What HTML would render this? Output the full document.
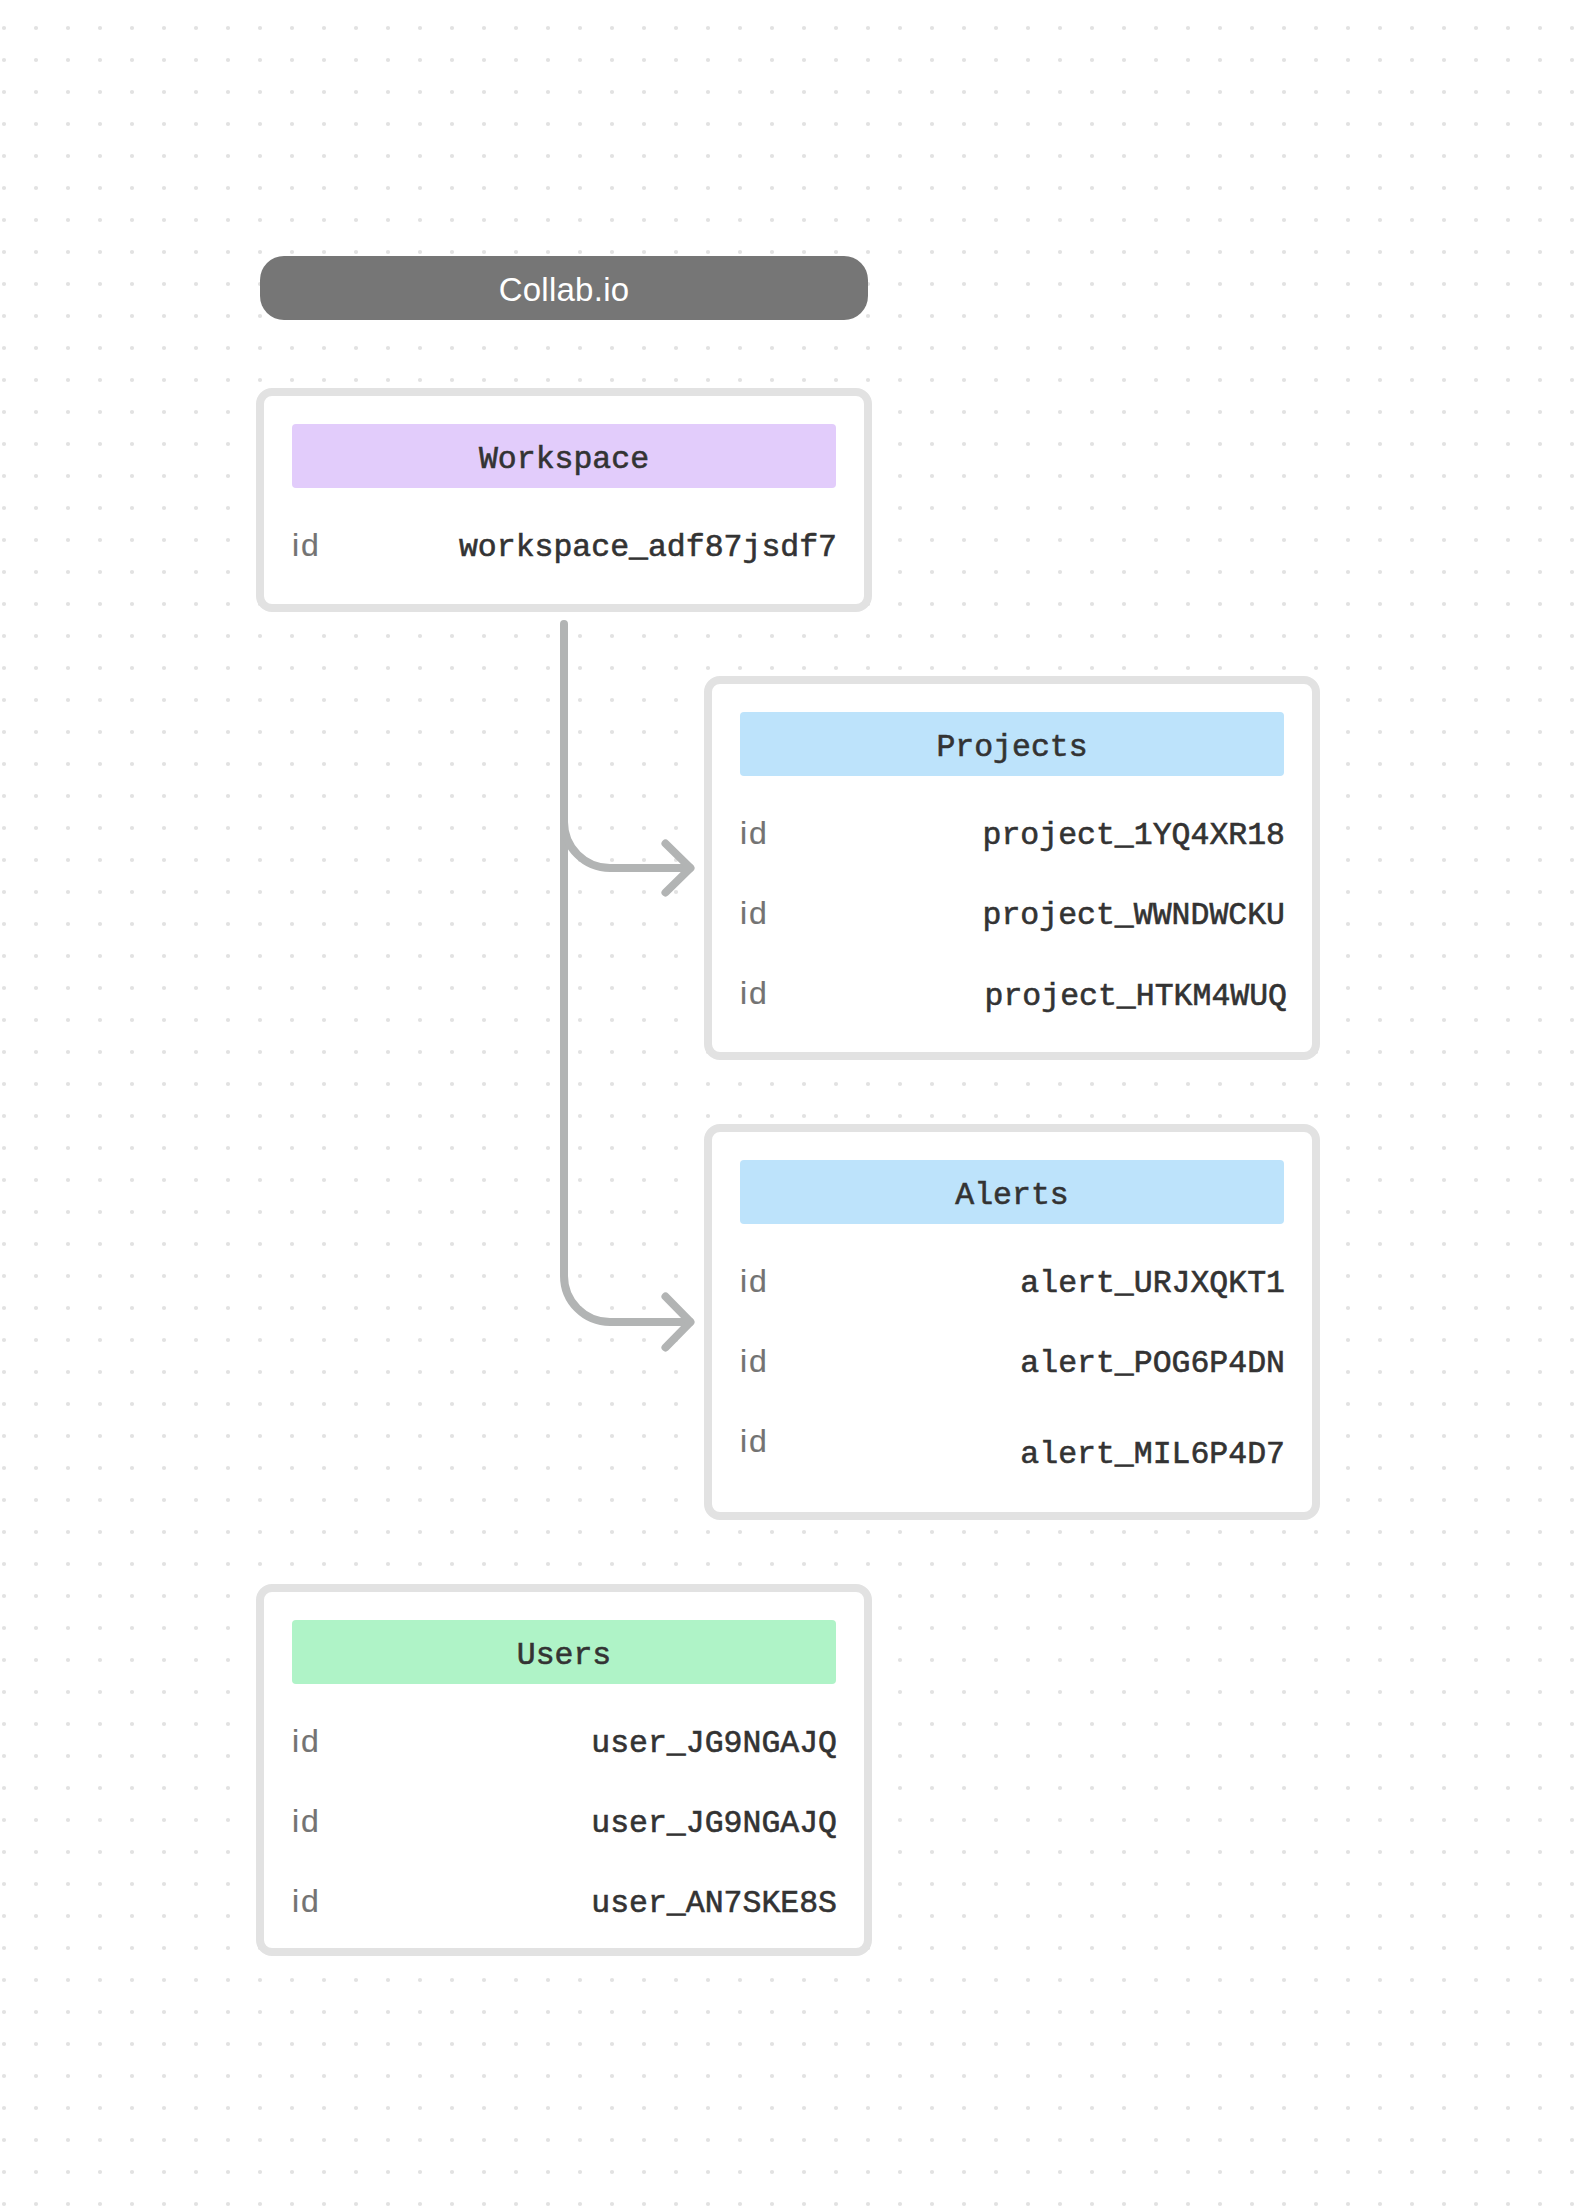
<!DOCTYPE html>
<html>
<head>
<meta charset="utf-8">
<style>
html,body{margin:0;padding:0;}
body{width:1576px;height:2212px;position:relative;overflow:hidden;background:#ffffff;font-family:"Liberation Sans",sans-serif;}
#dots{position:absolute;left:0;top:0;width:1576px;height:2212px;}
.pill{position:absolute;left:260px;top:256px;width:608px;height:64px;border-radius:24px;background:#767676;}
.pill span{position:absolute;left:0;right:0;top:0;text-align:center;color:#fff;font-size:33px;line-height:40px;top:14px;letter-spacing:0.25px;}
.card{position:absolute;box-sizing:border-box;border:8px solid #e2e2e2;border-radius:16px;background:#fff;width:616px;}
.hdr{position:absolute;left:28px;top:28px;width:544px;height:64px;border-radius:4px;}
.hdr span{position:absolute;left:0;right:0;text-align:center;color:#333;font-family:"Liberation Mono",monospace;font-size:31.5px;line-height:40px;top:16px;-webkit-text-stroke:0.6px #333;}
.lbl{position:absolute;left:28px;color:#737373;font-size:32px;line-height:40px;letter-spacing:2px;-webkit-text-stroke:0.2px #737373;}
.val{position:absolute;right:27px;color:#333;font-family:"Liberation Mono",monospace;font-size:31.5px;line-height:40px;-webkit-text-stroke:0.6px #333;}
svg.conn{position:absolute;left:0;top:0;}
</style>
</head>
<body>
<svg id="dots" width="1576" height="2212">
<defs><pattern id="dp" x="-12" y="12" width="32" height="32" patternUnits="userSpaceOnUse"><circle cx="16" cy="16" r="2.1" fill="#e2e2e2"/></pattern></defs>
<rect width="1576" height="2212" fill="url(#dp)"/>
</svg>

<div class="pill"><span>Collab.io</span></div>

<!-- Workspace -->
<div class="card" style="left:256px;top:388px;height:224px;">
  <div class="hdr" style="background:#e2ccfb;"><span>Workspace</span></div>
  <div class="lbl" style="top:129px;">id</div>
  <div class="val" style="top:132px;">workspace_adf87jsdf7</div>
</div>

<!-- connector -->
<svg class="conn" width="1576" height="2212">
  <g fill="none" stroke="#b2b4b4" stroke-width="8" stroke-linecap="round" stroke-linejoin="round">
    <path d="M564 624 V1276 A46 46 0 0 0 610 1322 H690"/>
    <path d="M564 822 A46 46 0 0 0 610 868 H690"/>
    <path d="M665.5 843.5 L690.5 868 L665.5 892.5"/>
    <path d="M665.5 1296.5 L690.5 1322 L665.5 1347.5"/>
  </g>
</svg>

<!-- Projects -->
<div class="card" style="left:704px;top:676px;height:384px;">
  <div class="hdr" style="background:#bde3fb;"><span>Projects</span></div>
  <div class="lbl" style="top:129px;">id</div>
  <div class="val" style="top:132px;">project_1YQ4XR18</div>
  <div class="lbl" style="top:209px;">id</div>
  <div class="val" style="top:212px;">project_WWNDWCKU</div>
  <div class="lbl" style="top:289px;">id</div>
  <div class="val" style="top:293px;right:25px;">project_HTKM4WUQ</div>
</div>

<!-- Alerts -->
<div class="card" style="left:704px;top:1124px;height:396px;">
  <div class="hdr" style="background:#bde3fb;"><span>Alerts</span></div>
  <div class="lbl" style="top:129px;">id</div>
  <div class="val" style="top:132px;">alert_URJXQKT1</div>
  <div class="lbl" style="top:209px;">id</div>
  <div class="val" style="top:212px;">alert_POG6P4DN</div>
  <div class="lbl" style="top:289px;">id</div>
  <div class="val" style="top:303px;">alert_MIL6P4D7</div>
</div>

<!-- Users -->
<div class="card" style="left:256px;top:1584px;height:372px;">
  <div class="hdr" style="background:#aff3c7;"><span>Users</span></div>
  <div class="lbl" style="top:129px;">id</div>
  <div class="val" style="top:132px;">user_JG9NGAJQ</div>
  <div class="lbl" style="top:209px;">id</div>
  <div class="val" style="top:212px;">user_JG9NGAJQ</div>
  <div class="lbl" style="top:289px;">id</div>
  <div class="val" style="top:292px;">user_AN7SKE8S</div>
</div>
</body>
</html>
